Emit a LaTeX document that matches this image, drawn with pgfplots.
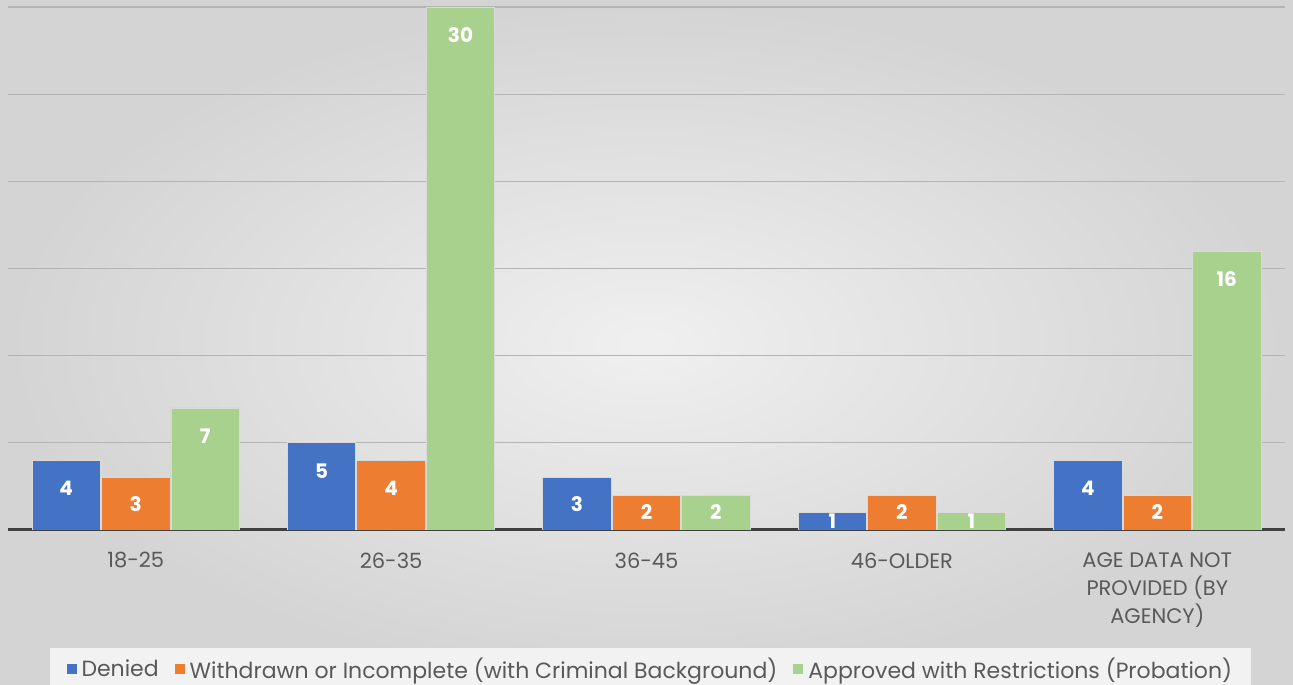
\documentclass[border=0pt]{standalone}
\usepackage{pgfplots}
\pgfplotsset{compat=1.18}
\usepackage{fontspec}
\setmainfont{Poppins}
\definecolor{cBlue}{HTML}{4472C4}
\definecolor{cOrange}{HTML}{ED7D31}
\definecolor{cGreen}{HTML}{A9D18E}
\definecolor{txt}{HTML}{595959}
\definecolor{gridc}{HTML}{B4B4B4}
\definecolor{basec}{HTML}{404040}

\begin{document}
\begin{tikzpicture}[x=1bp,y=1bp]
% soft grey backdrop
\shade[inner color=black!6, outer color=black!17] (0,0) rectangle (1293,685);
\useasboundingbox (0,0) rectangle (1293,685);
\begin{axis}[
  at={(8bp,155bp)}, anchor=south west,
  width=1277bp, height=523bp, scale only axis,
  xmin=-0.5, xmax=4.5, ymin=0, ymax=30,
  ybar, bar width=0.268,
  axis line style={draw=none},
  /pgf/number format/assume math mode=true,
  ytick={5,10,...,30}, yticklabels={},
  ymajorgrids, grid style={gridc, line width=1.2bp},
  major tick length=0,
  extra y ticks={0}, extra y tick labels={},
  extra y tick style={grid style={basec, line width=3bp}},
  xtick={0,...,4},
  xticklabels={18-25, 26-35, 36-45, 46-OLDER, {AGE DATA NOT\\PROVIDED (BY\\AGENCY)}},
  xticklabel style={align=center, text=txt, yshift=-19bp,
    font=\fontsize{21bp}{28bp}\selectfont},
  visualization depends on={y \as \rawy},
  nodes near coords,
  nodes near coords style={font=\bfseries\fontsize{20bp}{20bp}\selectfont, text=white,
    anchor=center, yshift={-min(28,8.715*\rawy)*1pt}},
  every axis plot/.append style={draw=white!85!black, line width=0.8bp},
  legend style={at={(0.503,-0.225)}, anchor=north, legend columns=3, draw=none,
    fill=black!5, font=\fontsize{22bp}{24bp}\selectfont, text=txt,
    inner xsep=17bp, inner ysep=8bp,
    /tikz/every odd column/.append style={column sep=3bp},
    /tikz/every even column/.append style={column sep=14bp}},
  legend image code/.code={\fill[#1,draw=none] (0bp,-5bp) rectangle (10bp,5bp);},
]
\addplot[fill=cBlue, bar shift=-0.272] coordinates {(0,4) (1,5) (2,3) (3,1) (4,4)};
\addplot[fill=cOrange, bar shift=0] coordinates {(0,3) (1,4) (2,2) (3,2) (4,2)};
\addplot[fill=cGreen, bar shift=0.272] coordinates {(0,7) (1,30) (2,2) (3,1) (4,16)};
\legend{Denied, Withdrawn or Incomplete (with Criminal Background), Approved with Restrictions (Probation)}
\end{axis}
\end{tikzpicture}
\end{document}
